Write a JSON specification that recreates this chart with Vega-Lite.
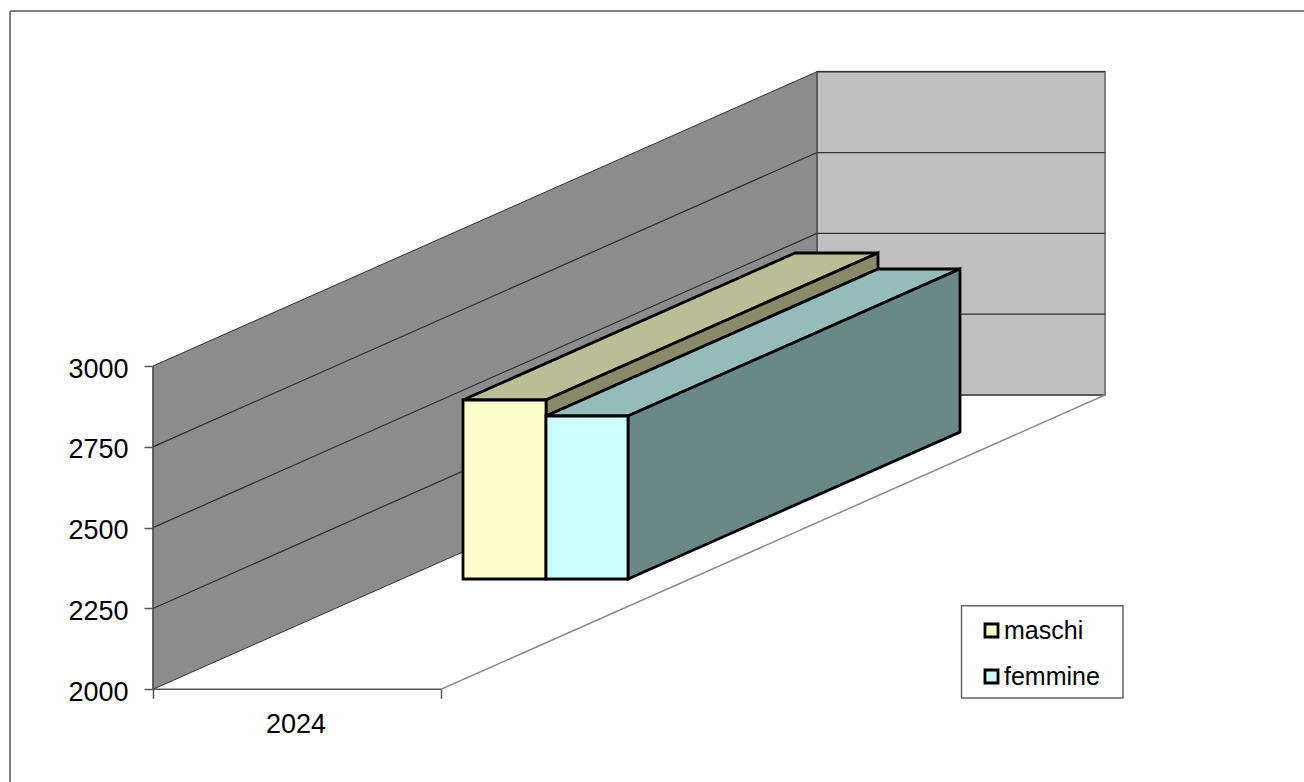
{
"$schema":"https://vega.github.io/schema/vega-lite/v6.json",
"width":1304,"height":782,"padding":0,"autosize":{"type":"none"},"background":"white",
"config":{"view":{"stroke":null},"font":"Liberation Sans"},
"encoding":{
 "x":{"field":"x","type":"quantitative","scale":{"domain":[0,1304],"nice":false,"zero":false},
  "axis":{"title":null,"values":[153,441],"labels":false,"grid":false,"domain":false,"ticks":true,"tickSize":9,"tickColor":"#555555","tickWidth":1.5,"offset":-92.7}},
 "y":{"field":"y","type":"quantitative","scale":{"domain":[1713.3,4132.1],"nice":false,"zero":false},
  "axis":{"title":null,"values":[2000,2250,2500,2750,3000],"format":"d","grid":false,"domain":false,"tickSize":9,"tickColor":"#555555","tickWidth":1.5,"labelFont":"Liberation Sans","labelFontSize":27,"labelColor":"#000000","labelPadding":16,"labelOffset":3,"offset":-153}}
},
"layer":[
 {"data":{"values":[{"x":10,"y":1713.3,"y2":4097.8}]},"mark":{"type":"rule","stroke":"#808080","strokeWidth":2},"encoding":{"y2":{"field":"y2"}}},
 {"data":{"values":[{"x":10,"x2":1304,"y":4097.8}]},"mark":{"type":"rule","stroke":"#808080","strokeWidth":2},"encoding":{"x2":{"field":"x2"}}},
 {"data":{"values":[{"x":817,"x2":1105,"y":2910.3,"y2":3910.3}]},"mark":{"type":"rect","fill":"#c0c0c0","stroke":"#808080","strokeWidth":2},"encoding":{"x2":{"field":"x2"},"y2":{"field":"y2"}}},
 {"data":{"values":[{"x":153,"y":2000,"y2":3000},{"x":817,"y":2910.3,"y2":3910.3}]},"mark":{"type":"area","orient":"vertical","fill":"#8c8c8c","stroke":"#333333","strokeWidth":1},"encoding":{"y2":{"field":"y2"}}},
 {"data":{"values":[
   {"x":153,"x2":817,"y":2250,"y2":3160.3},{"x":153,"x2":817,"y":2500,"y2":3410.3},{"x":153,"x2":817,"y":2750,"y2":3660.3},
   {"x":817,"x2":1105,"y":3160.3,"y2":3160.3},{"x":817,"x2":1105,"y":3410.3,"y2":3410.3},{"x":817,"x2":1105,"y":3660.3,"y2":3660.3},
   {"x":817,"x2":1105,"y":3910.3,"y2":3910.3},{"x":817,"x2":1105,"y":2910.3,"y2":2910.3}]},
  "mark":{"type":"rule","stroke":"#333333","strokeWidth":1.2},"encoding":{"x2":{"field":"x2"},"y2":{"field":"y2"}}},
 {"data":{"values":[{"x":153,"x2":441,"y":2000,"y2":2000}]},"mark":{"type":"rule","stroke":"#555555","strokeWidth":1.5},"encoding":{"x2":{"field":"x2"},"y2":{"field":"y2"}}},
 {"data":{"values":[{"x":441,"x2":1105,"y":2000,"y2":2910.3}]},"mark":{"type":"rule","stroke":"#8c8c8c","strokeWidth":1.5},"encoding":{"x2":{"field":"x2"},"y2":{"field":"y2"}}},
 {"data":{"values":[{"x":153,"y":2000,"y2":3000}]},"mark":{"type":"rule","stroke":"#555555","strokeWidth":1.5},"encoding":{"y2":{"field":"y2"}}},
 {"data":{"values":[{"y":2894.8,"x":463,"x2":546},{"y":3349.5,"x":795,"x2":878}]},"mark":{"type":"area","orient":"horizontal","fill":"#bcbc96","stroke":"#000000","strokeWidth":2.8,"strokeJoin":"miter"},"encoding":{"x2":{"field":"x2"}}},
 {"data":{"values":[{"x":546,"y":2845.4,"y2":2894.8},{"x":878,"y":3300,"y2":3349.5}]},"mark":{"type":"area","orient":"vertical","fill":"#8a8a6a","stroke":"#000000","strokeWidth":2.8},"encoding":{"y2":{"field":"y2"}}},
 {"data":{"values":[{"y":2845.4,"x":546,"x2":628},{"y":3300,"x":878,"x2":960}]},"mark":{"type":"area","orient":"horizontal","fill":"#96bbbb","stroke":"#000000","strokeWidth":2.8},"encoding":{"x2":{"field":"x2"}}},
 {"data":{"values":[{"x":628,"y":2341.2,"y2":2845.4},{"x":960,"y":2795.9,"y2":3300}]},"mark":{"type":"area","orient":"vertical","fill":"#6b8888","stroke":"#000000","strokeWidth":2.8},"encoding":{"y2":{"field":"y2"}}},
 {"data":{"values":[{"x":961.5,"x2":1123,"y":1973,"y2":2258.6}]},"mark":{"type":"rect","fill":"#ffffff","stroke":"#666666","strokeWidth":1.5},"encoding":{"x2":{"field":"x2"},"y2":{"field":"y2"}}},
 {"data":{"values":[{"series":"maschi","x":463,"x2":546,"y":2341.2,"y2":2894.8},{"series":"femmine","x":546,"x2":628,"y":2341.2,"y2":2845.4}]},
  "mark":{"type":"rect","stroke":"#000000","strokeWidth":2.8},
  "encoding":{"x2":{"field":"x2"},"y2":{"field":"y2"},
   "color":{"field":"series","type":"nominal","scale":{"domain":["maschi","femmine"],"range":["#ffffcc","#ccffff"]},
    "legend":{"title":null,"orient":"none","legendX":979,"legendY":618,"padding":0,"symbolType":"square","symbolSize":170,"symbolStrokeColor":"#000000","symbolStrokeWidth":2.8,"symbolOpacity":1,"labelFont":"Liberation Sans","labelFontSize":25,"labelColor":"#000000","labelOffset":0,"rowPadding":20}}}},
 {"data":{"values":[{"x":296,"y":1889.6,"label":"2024"}]},"mark":{"type":"text","font":"Liberation Sans","fontSize":27,"color":"#000000","align":"center","baseline":"middle"},"encoding":{"text":{"field":"label"}}}
]
}
